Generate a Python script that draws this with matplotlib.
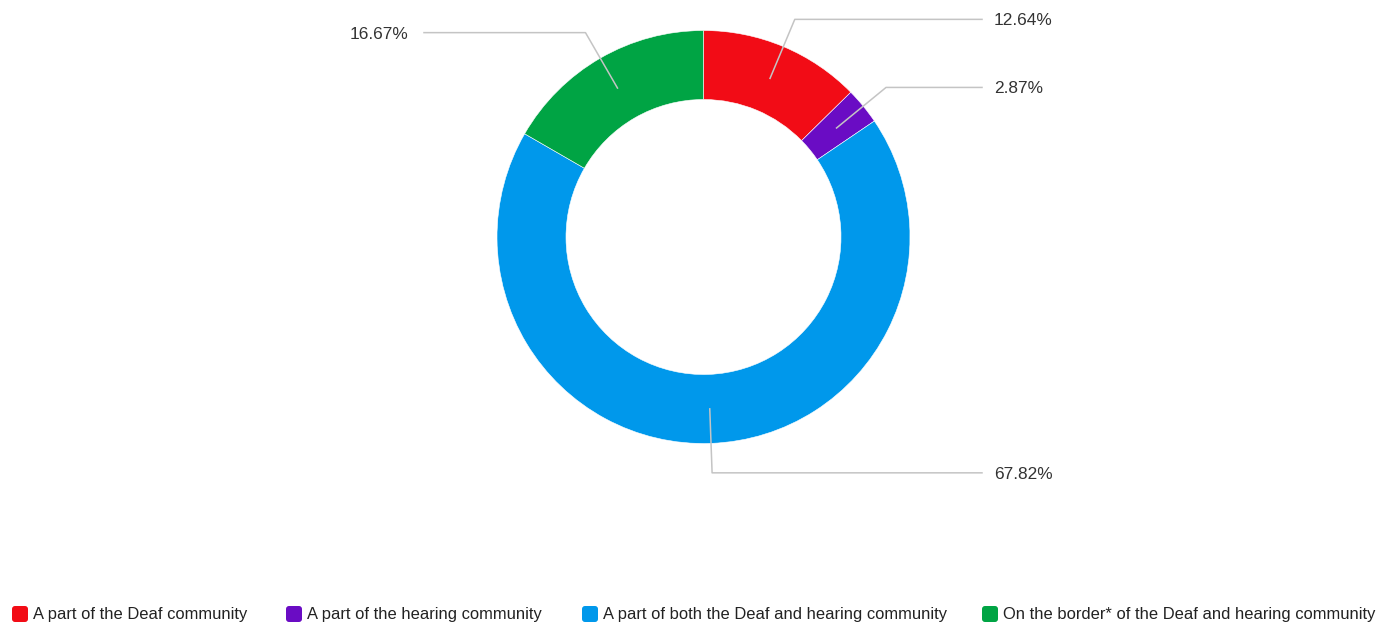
import numpy as np
import matplotlib.pyplot as plt
from matplotlib.patches import FancyBboxPatch

# Anteile je Gruppe (Prozent), im Uhrzeigersinn ab 12 Uhr
categories = ["A part of the Deaf community",
              "A part of the hearing community",
              "A part of both the Deaf and hearing community",
              "On the border* of the Deaf and hearing community"]
shares = [12.64, 2.87, 67.82, 16.67]
colors = ["#f20c16", "#6a0cc4", "#0098eb", "#00a444"]

W, H = 1379, 626
plt.rcParams['font.family'] = ['Liberation Sans', 'DejaVu Sans']

fig = plt.figure(figsize=(W / 100, H / 100), dpi=100)
ax = fig.add_axes([0, 0, 1, 1])

# Ring in Pixelkoordinaten (y nach oben)
cx, cy = 703.5, H - 237
r_out, r_in = 206.5, 137.5
wedges, _ = ax.pie(shares, colors=colors, startangle=90, counterclock=False,
                   center=(cx, cy), radius=r_out,
                   wedgeprops=dict(width=r_out - r_in, edgecolor="white", linewidth=0.4))

ax.set_xlim(0, W)
ax.set_ylim(0, H)
ax.set_aspect("equal")
ax.axis("off")

# Beschriftungen mit Knicklinien
r_mid, r_elb = 172, 236
for w, v in zip(wedges, shares):
    ang = np.deg2rad((w.theta1 + w.theta2) / 2)
    x0, y0 = cx + r_mid * np.cos(ang), cy + r_mid * np.sin(ang)
    x1, y1 = cx + r_elb * np.cos(ang), cy + r_elb * np.sin(ang)
    if x1 >= cx:
        x2, tx, ha = 982, 994, "left"
    else:
        x2, tx, ha = 424, 408, "right"
    ax.plot([x0, x1, x2], [y0, y1, y1], color="#c4c4c4", lw=1.1, zorder=3)
    ax.text(tx, y1 - 1.5, f"{v:.2f}%", ha=ha, va="center", fontsize=12.4, color="#333333")

# Legende unten, von Hand gesetzt
box_x = [12, 286, 582, 982]
leg_y = H - 614
for bx, c, lab in zip(box_x, colors, categories):
    ax.add_patch(FancyBboxPatch((bx + 2, leg_y - 6), 12, 12,
                                boxstyle="round,pad=2,rounding_size=3",
                                fc=c, ec="none"))
    ax.text(bx + 21, leg_y, lab, ha="left", va="center", fontsize=11.9, color="#222222")

fig.savefig("out.png", dpi=100)
